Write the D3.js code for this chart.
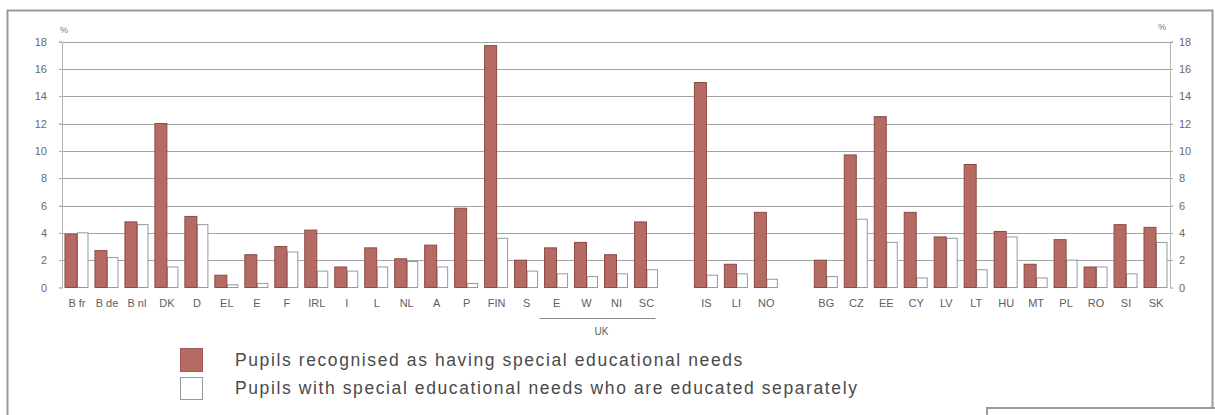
<!DOCTYPE html>
<html>
<head>
<meta charset="utf-8">
<script src="https://cdn.jsdelivr.net/npm/d3@7/dist/d3.min.js"></script>
<style>
  html, body { margin: 0; padding: 0; background: #fff; }
  svg { display: block; font-family: "Liberation Sans", Arial, sans-serif; }
</style>
</head>
<body>
<svg id="chart" width="1215" height="415"></svg>
<script>
// Country slots along the x axis; empty strings are spacer slots between groups
const categories = ["B fr","B de","B nl","DK","D","EL","E","F","IRL","I","L","NL","A","P","FIN","S",
  "E","W","NI","SC","","IS","LI","NO","","BG","CZ","EE","CY","LV","LT","HU","MT","PL","RO","SI","SK"];

// Pupils recognised as having special educational needs (%)
const senShare = [3.9,2.7,4.8,12.0,5.2,0.9,2.4,3.0,4.2,1.5,2.9,2.1,3.1,5.8,17.7,2.0,
  2.9,3.3,2.4,4.8,null,15.0,1.7,5.5,null,2.0,9.7,12.5,5.5,3.7,9.0,4.1,1.7,3.5,1.5,4.6,4.4];

// Pupils with special educational needs who are educated separately (%)
const separateShare = [4.0,2.2,4.6,1.5,4.6,0.2,0.3,2.6,1.2,1.2,1.5,1.9,1.5,0.3,3.6,1.2,
  1.0,0.8,1.0,1.3,null,0.9,1.0,0.6,null,0.8,5.0,3.3,0.7,3.6,1.3,3.7,0.7,2.0,1.5,1.0,3.3];

const yTicks = [0,2,4,6,8,10,12,14,16,18];
const ukStart = 16, ukEnd = 19; // E, W, NI, SC

const seriesNames = [
  "Pupils recognised as having special educational needs",
  "Pupils with special educational needs who are educated separately"
];

const svg = d3.select("#chart");

// outer frame
svg.append("rect").attr("x", 7.5).attr("y", 10.5).attr("width", 1205).attr("height", 430)
  .attr("fill", "none").attr("stroke", "#9a9a9a").attr("stroke-width", 2);

const plotLeft = 62, plotRight = 1170, plotTop = 41.5, plotBottom = 287.5;

const x = d3.scaleBand().domain(d3.range(categories.length)).range([plotLeft, plotRight + 1]).padding(0);
const y = d3.scaleLinear().domain([0, 18]).range([plotBottom, plotTop]);

// horizontal gridlines
svg.append("g").selectAll("line").data(yTicks.filter(d => d > 0)).join("line")
  .attr("x1", plotLeft - 3).attr("x2", plotRight + 3)
  .attr("y1", d => Math.round(y(d)) + 0.5).attr("y2", d => Math.round(y(d)) + 0.5)
  .attr("stroke", "#a4a4a4").attr("stroke-width", 1.2);

// left and right axes
const axisL = d3.axisLeft(y).tickValues(yTicks).tickSize(3).tickPadding(12).tickFormat(d3.format("d"));
const axisR = d3.axisRight(y).tickValues(yTicks).tickSize(3).tickPadding(6).tickFormat(d3.format("d"));

const gL = svg.append("g").attr("transform", `translate(${plotLeft},0)`).call(axisL);
const gR = svg.append("g").attr("transform", `translate(${plotRight},0)`).call(axisR);
[gL, gR].forEach(g => {
  g.select(".domain").attr("stroke", "#b5b5b5").attr("stroke-width", 1);
  g.selectAll(".tick line").attr("stroke", "#b5b5b5");
  g.selectAll(".tick text").attr("fill", "#6a6a6a").style("font-size", "11px")
    .style("font-family", "'Liberation Sans', Arial, sans-serif");
});

svg.append("text").attr("x", 64).attr("y", 33).attr("text-anchor", "middle")
  .attr("fill", "#777").style("font-size", "9px").text("%");
svg.append("text").attr("x", 1162).attr("y", 30).attr("text-anchor", "middle")
  .attr("fill", "#777").style("font-size", "9px").text("%");

const step = x.bandwidth();
const cx = i => x(i) + step / 2;

// bars: separately educated (outlined)
svg.append("g").selectAll("rect").data(separateShare.map((v, i) => ({v, i})).filter(d => d.v != null)).join("rect")
  .attr("x", d => cx(d.i) + 0.5).attr("width", 10.5)
  .attr("y", d => y(d.v)).attr("height", d => y(0) - y(d.v))
  .attr("fill", "#ffffff").attr("stroke", "#8e9ca0").attr("stroke-width", 1);

// bars: recognised SEN (filled)
svg.append("g").selectAll("rect").data(senShare.map((v, i) => ({v, i})).filter(d => d.v != null)).join("rect")
  .attr("x", d => cx(d.i) - 12).attr("width", 12)
  .attr("y", d => y(d.v)).attr("height", d => y(0) - y(d.v))
  .attr("fill", "#b66a64").attr("stroke", "#8c4a45").attr("stroke-width", 1);

// category labels
svg.append("g").selectAll("text").data(categories.map((c, i) => ({c, i})).filter(d => d.c !== "")).join("text")
  .attr("x", d => cx(d.i)).attr("y", 307).attr("text-anchor", "middle")
  .attr("fill", "#5e5e5e").style("font-size", "11px").text(d => d.c);

// UK bracket
svg.append("line").attr("x1", x(ukStart) - 2).attr("x2", x(ukEnd) + step - 6)
  .attr("y1", 318.5).attr("y2", 318.5).attr("stroke", "#8a8a8a").attr("stroke-width", 1);
svg.append("text").attr("x", (x(ukStart) + x(ukEnd) + step) / 2).attr("y", 335)
  .attr("text-anchor", "middle").attr("fill", "#5e5e5e").style("font-size", "10px").text("UK");

// legend
const legend = svg.append("g");
legend.append("rect").attr("x", 180.5).attr("y", 348.5).attr("width", 22).attr("height", 23)
  .attr("fill", "#b66a64").attr("stroke", "#a05a55");
legend.append("rect").attr("x", 180.5).attr("y", 377.5).attr("width", 22).attr("height", 22)
  .attr("fill", "#fff").attr("stroke", "#8e9ca0");
legend.selectAll("text.lg").data(seriesNames).join("text").attr("class", "lg")
  .attr("x", 235).attr("y", (d, i) => 366 + i * 28)
  .attr("fill", "#4a4a4a").style("font-size", "17.5px").style("letter-spacing", "1.6px")
  .text(d => d);

// small framed box at lower right
svg.append("rect").attr("x", 987).attr("y", 408).attr("width", 240).attr("height", 30)
  .attr("fill", "#fff").attr("stroke", "#9a9a9a").attr("stroke-width", 2);
</script>
</body>
</html>
